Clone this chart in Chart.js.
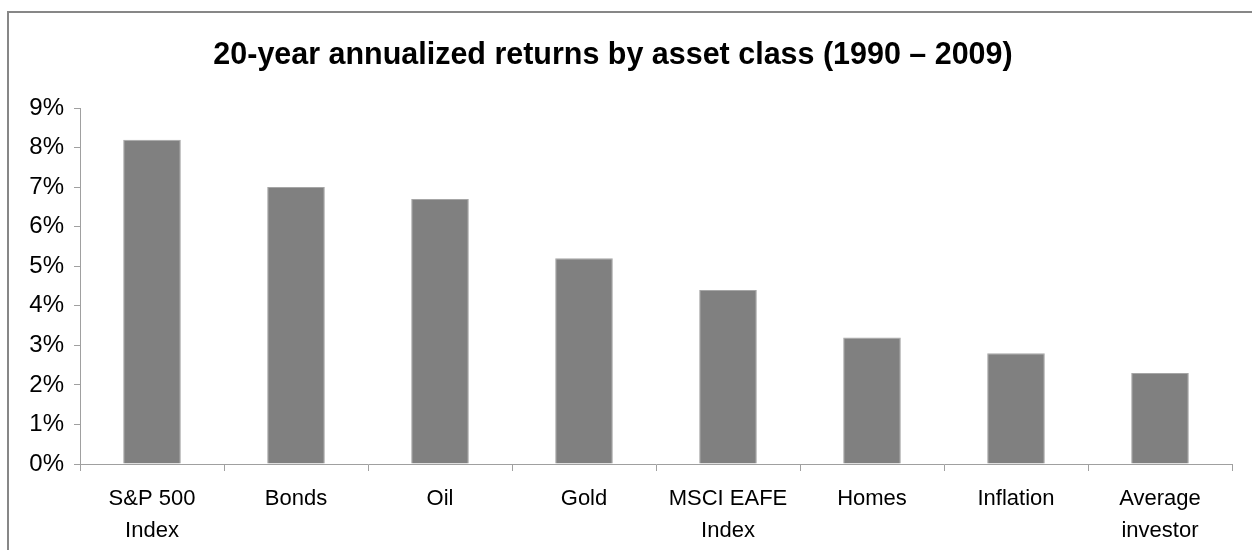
<!DOCTYPE html>
<html>
<head>
<meta charset="utf-8">
<script src="https://cdn.jsdelivr.net/npm/chart.js@4.4.1/dist/chart.umd.min.js"></script>
<style>
  html, body { margin: 0; padding: 0; background: #ffffff; }
  #wrap { position: relative; width: 1252px; height: 550px; overflow: hidden; }
  #frame { position: absolute; left: 7px; top: 11px; width: 1300px; height: 600px; border-left: 2px solid #878787; border-top: 2px solid #878787; box-sizing: border-box; }
  canvas { position: absolute; left: 0; top: 0; }
  #title { position: absolute; left: 0; width: 1226px; top: 37px; text-align: center; font-family: 'Liberation Sans', Arial, sans-serif; font-weight: bold; font-size: 32px; line-height: 32px; color: #000; white-space: nowrap; transform: scaleX(0.952); transform-origin: 613px 0; z-index: 2; }
</style>
</head>
<body>
<div id="wrap">
  <div id="frame"></div>
  <canvas id="c" width="1252" height="550"></canvas>
  <div id="title"></div>
</div>
<script>
const chartTitle = '20-year annualized returns by asset class (1990 – 2009)';
const categories = [['S&P 500', 'Index'], 'Bonds', 'Oil', 'Gold', ['MSCI EAFE', 'Index'], 'Homes', 'Inflation', ['Average', 'investor']];
const returnsPct = [8.2, 7.0, 6.7, 5.2, 4.4, 3.2, 2.8, 2.3];
const yTicks = [0, 1, 2, 3, 4, 5, 6, 7, 8, 9];

document.getElementById('title').textContent = chartTitle;

new Chart(document.getElementById('c'), {
  type: 'bar',
  data: {
    labels: categories,
    datasets: [{
      data: returnsPct,
      backgroundColor: '#808080',
      borderColor: '#a6a6a6',
      borderWidth: 1,
      categoryPercentage: 1.0,
      barPercentage: 0.4
    }]
  },
  options: {
    responsive: false,
    animation: false,
    layout: { padding: { left: 0, right: 20, top: 108, bottom: 0 } },
    plugins: {
      legend: { display: false },
      tooltip: { enabled: false },
      title: { display: false }
    },
    scales: {
      y: {
        min: 0,
        max: 9,
        afterBuildTicks: (s) => { s.ticks = yTicks.map(v => ({ value: v })); },
        afterFit: (s) => { s.width = 80; },
        ticks: {
          color: '#000000',
          font: { family: "'Liberation Sans', Arial, sans-serif", size: 24 },
          padding: 10,
          callback: (v) => v + '%'
        },
        grid: { display: true, drawOnChartArea: false, drawTicks: true, tickLength: 6, color: '#a0a0a0' },
        border: { display: true, color: '#a0a0a0', width: 1 }
      },
      x: {
        afterFit: (s) => { s.height = 86; },
        ticks: {
          color: '#000000',
          font: { family: "'Liberation Sans', Arial, sans-serif", size: 22, lineHeight: 1.45 },
          padding: 12,
          maxRotation: 0,
          autoSkip: false
        },
        grid: { display: true, offset: true, drawOnChartArea: false, drawTicks: true, tickLength: 7, color: '#a0a0a0' },
        border: { display: true, color: '#a0a0a0', width: 1 }
      }
    }
  }
});
</script>
</body>
</html>
